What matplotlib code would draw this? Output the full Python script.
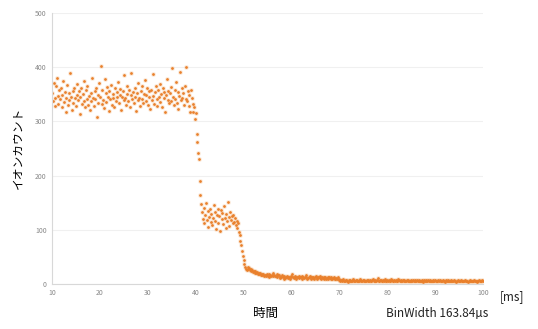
import numpy as np
import matplotlib.pyplot as plt

plt.rcParams['font.family'] = ['Noto Sans CJK JP', 'DejaVu Sans']

# bin width in ms (163.84 us), first bin starts at 10 ms
bin_width = 0.16384
t_start = 10.0

# ion counts per bin
counts_plateau = [
    352, 338, 371, 344, 329, 365, 380, 347, 333, 358, 341, 362, 327, 349, 375,
    336, 355, 318, 344, 368, 331, 352, 340, 389, 346, 322, 357, 335, 361, 343,
    328, 370, 348, 339, 356, 314, 345, 362, 333, 351, 374, 337, 326, 359, 342,
    366, 330, 347, 321, 353, 338, 380, 344, 329, 357, 341, 362, 308, 349, 335,
    371, 346, 403, 333, 358, 340, 325, 379, 352, 336, 364, 345, 319, 356, 341,
    368, 331, 350, 343, 327, 362, 338, 355, 345, 372, 334, 349, 360, 322, 346,
    357, 339, 385, 344, 330, 366, 351, 337, 358, 326, 348, 390, 341, 354, 335,
    362, 346, 320, 352, 339, 371, 344, 328, 357, 342, 365, 335, 350, 376, 338,
    348, 361, 331, 345, 356, 323, 359, 340, 388, 347, 333, 354, 366, 342, 329,
    358, 345, 370, 336, 351, 327, 362, 343, 355, 318, 349, 379, 340, 357, 334,
    352, 364, 338, 398, 346, 330, 359, 341, 372, 335, 355, 323, 347, 392, 339,
    361, 344, 352, 330, 366, 342, 401, 337, 356, 329, 348, 318, 359, 343,
    332, 318, 327, 305, 315,
]
counts_drop = [276, 262, 241, 230, 190, 165]
counts_shoulder = [
    148, 132, 120, 141, 112, 128, 150, 118, 135, 105, 124, 139, 115, 130, 108,
    122, 145, 117, 133, 101, 127, 138, 113, 125, 98, 136, 119, 131, 110, 144,
    121, 103, 129, 116, 152, 124, 107, 133, 118, 126, 112,
]
counts_fall = [128, 114, 122, 108, 117, 103, 112, 96, 90, 80, 72, 60, 52, 44, 37, 32, 28, 26]
counts_tail = [
    32, 28, 30, 26, 27, 24, 25, 22, 24, 21, 23, 20, 22, 19, 21, 18, 20, 17, 19, 16, 18,
]
counts_low = [
    15, 17, 14, 16, 19, 15, 13, 18, 16, 14, 17, 15, 20, 16, 14, 15, 18, 13, 16, 17,
    11, 13, 12, 16, 12, 10, 14, 11, 13, 15, 12, 11, 13, 10, 14, 12, 18, 13, 11, 12,
    14, 10, 13, 12, 15, 11, 12, 13, 10, 14, 12, 11, 13, 16, 12, 10, 11, 13, 12, 14,
    10, 12, 11, 13, 9, 12, 14, 11, 10, 12, 13, 11, 15, 10, 12, 11, 9, 13, 12, 10,
    11, 12, 10, 13, 11, 9, 12, 10, 11, 12, 10, 9, 11, 10, 12, 9,
]
counts_base = [
    7, 6, 8, 5, 7, 9, 6, 5, 7, 8, 6, 4, 7, 6, 8, 5, 6, 7, 9, 6,
    5, 7, 6, 8, 6, 5, 7, 10, 6, 5, 7, 6, 8, 5, 6, 7, 5, 8, 6, 7,
    6, 5, 7, 9, 6, 8, 5, 6, 7, 11, 6, 5, 8, 7, 6, 5, 7, 6, 9, 6,
    5, 7, 6, 8, 5, 6, 10, 7, 6, 5, 8, 6, 7, 5, 6, 9, 7, 6, 5, 7,
    6, 8, 5, 7, 6, 5, 7, 6, 8, 6, 5, 7, 6, 5, 8, 6, 7, 5, 6, 7,
    5, 6, 8, 6, 5, 7, 6, 4, 7, 6, 5, 8, 6, 7, 5, 6, 7, 5, 6, 8,
    6, 5, 7, 6, 5, 6, 8, 5, 7, 6, 5, 6, 7, 5, 6, 4, 7, 6, 5, 7,
    6, 5, 6, 8, 5, 6, 7, 5, 6, 4, 6, 7, 5, 6, 5, 7, 6, 5, 6, 5,
    7, 6, 5, 6, 4, 6, 5, 7, 6, 5, 6, 5, 7, 6, 5, 4, 6, 5, 7, 6,
    6, 5, 7, 5,
]

counts = np.array(counts_plateau + counts_drop + counts_shoulder + counts_fall
                  + counts_tail + counts_low + counts_base)
time_ms = t_start + np.arange(len(counts)) * bin_width

x_ticks = [10, 20, 30, 40, 50, 60, 70, 80, 90, 100]
y_ticks = [0, 100, 200, 300, 400, 500]

fig = plt.figure(figsize=(5.38, 3.29), dpi=100)
ax = fig.add_axes([0.097, 0.137, 0.801, 0.823])

# soft halo under each point, then the point itself
ax.plot(time_ms, counts, linestyle='none', marker='o', markersize=3.6,
        color='#f6c9a0', markeredgewidth=0, alpha=0.35)
ax.plot(time_ms, counts, linestyle='none', marker='o', markersize=2.0,
        color='#e9802c', markeredgewidth=0)

ax.set_xlim(10, 100)
ax.set_ylim(0, 500)
ax.set_xticks(x_ticks)
ax.set_yticks(y_ticks)
ax.tick_params(length=0, labelsize=5, labelcolor='#888888', pad=4)
ax.grid(axis='y', color='#f0f0f0', linewidth=0.8)
ax.set_axisbelow(True)
for side in ['top', 'right']:
    ax.spines[side].set_visible(False)
for side in ['left', 'bottom']:
    ax.spines[side].set_color('#d8d8d8')
    ax.spines[side].set_linewidth(0.8)

fig.text(0.034, 0.55, 'イオンカウント', rotation=90, ha='center', va='center', fontsize=8.5)
fig.text(0.493, 0.048, '時間', ha='center', va='center', fontsize=9)
fig.text(0.812, 0.048, 'BinWidth 163.84µs', ha='center', va='center', fontsize=8.5, color='#222222')
fig.text(0.952, 0.10, '[ms]', ha='center', va='center', fontsize=8.5, color='#222222')

fig.savefig('out.png', dpi=100)
